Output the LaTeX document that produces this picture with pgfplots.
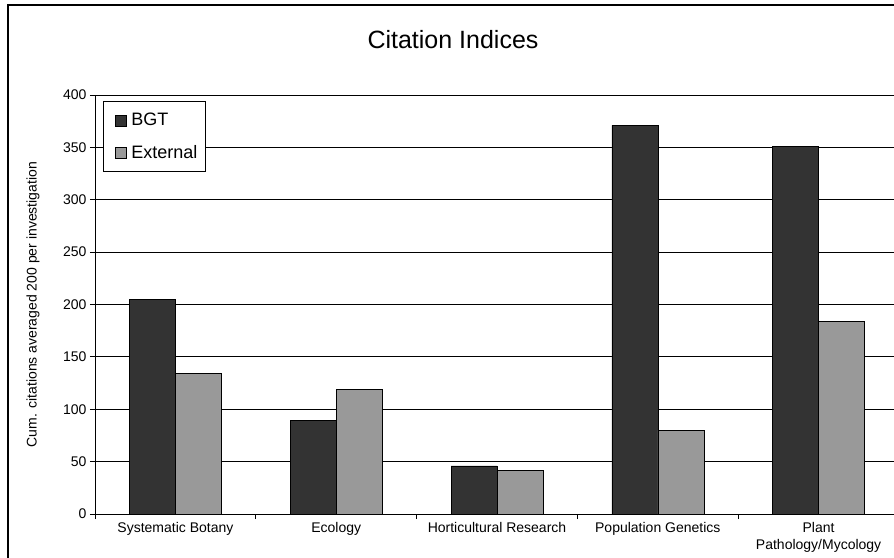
\documentclass[border=0pt]{standalone}
\usepackage{fontspec}
\setmainfont{Liberation Sans}
\usepackage{pgfplots}
\pgfplotsset{compat=1.18}
\definecolor{bgt}{HTML}{333333}
\definecolor{ext}{HTML}{999999}
\begin{document}
\begin{tikzpicture}[x=1pt,y=1pt]
\useasboundingbox (-95,-43) rectangle (799,514);
\clip (-95,-43) rectangle (799,514);
\draw[line width=1.5pt] (-87,-60) -- (-87,509) -- (820,509);
\node[font=\fontsize{25}{30}\selectfont] at (358,474) {Citation Indices};
\begin{axis}[
  at={(0,0)}, anchor=south west,
  width=804pt, height=419pt, scale only axis,
  xmin=-0.5, xmax=4.5, ymin=0, ymax=400,
  ybar=0pt, bar width=46pt,
  axis x line*=bottom, axis y line*=left,
  axis line style={line width=0.8pt},
  ytick={0,50,...,400},
  ymajorgrids, grid style={black, line width=0.8pt},
  xtick={-0.5,0.5,1.5,2.5,3.5}, xticklabels={},
  extra x ticks={0,1,2,3,4},
  extra x tick labels={Systematic Botany,Ecology,Horticultural Research,Population Genetics,{Plant\\Pathology/Mycology}},
  extra x tick style={major tick length=0pt, grid=none},
  tick align=outside, major tick length=5pt,
  tick style={black, line width=0.8pt},
  x tick label style={font=\fontsize{14}{17}\selectfont, align=center, yshift=-5pt},
  y tick label style={font=\fontsize{14}{17}\selectfont},
  /pgf/number format/assume math mode=true,
  ylabel={Cum. citations averaged 200 per investigation},
  ylabel style={font=\fontsize{14}{17}\selectfont, at={(axis description cs:0,0.5)}, yshift=62pt, anchor=center},
  legend style={at={(rel axis cs:0.01,0.986)}, anchor=north west, draw=black, line width=0.8pt,
    font=\fontsize{18}{21}\selectfont, inner xsep=6pt, inner ysep=10pt, row sep=14pt},
  legend cell align=left,
  legend image code/.code={\draw[#1, line width=0.6pt] (6pt,-5.5pt) rectangle (17pt,5.5pt);
    \path[draw=none, fill=none] (0pt,0pt) -- (20pt,0pt);},
]
\addplot[fill=bgt, draw=black, line width=0.6pt] coordinates {(0,205) (1,89) (2,46) (3,371) (4,351)};
\addlegendentry{BGT}
\addplot[fill=ext, draw=black, line width=0.6pt] coordinates {(0,134) (1,119) (2,42) (3,80) (4,184)};
\addlegendentry{External}
\end{axis}
\end{tikzpicture}
\end{document}
